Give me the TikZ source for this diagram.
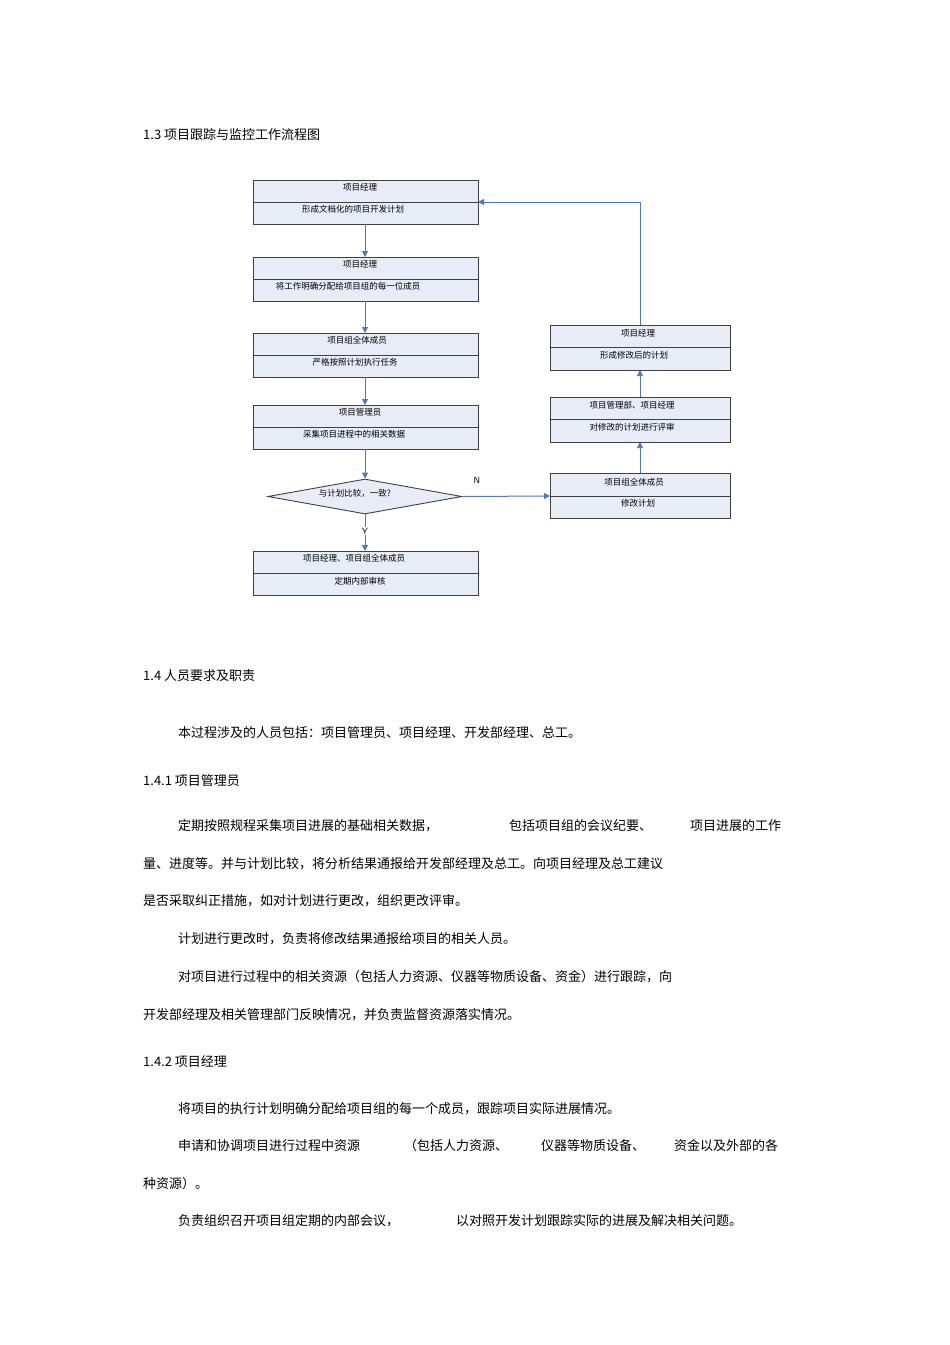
\documentclass[tikz,border=0pt]{standalone}
\usepackage{fontspec}
\newfontfamily\cjk{Noto Sans CJK SC}
\usetikzlibrary{arrows.meta,shapes.geometric}
\definecolor{boxfill}{HTML}{E8ECF7}
\definecolor{arr}{HTML}{5079BA}
\begin{document}
\begin{tikzpicture}[x=1pt,y=-1pt,
  box/.style={draw=black!75,line width=0.9pt,fill=boxfill},
  sm/.style={font=\cjk\fontsize{8.5}{10}\selectfont,inner sep=0pt},
  body/.style={font=\cjk\fontsize{13}{15}\selectfont,anchor=west,inner sep=0pt},
  link/.style={draw=arr,line width=1pt,-{Triangle[length=6pt,width=6pt]}}]
\useasboundingbox (0,0) rectangle (950,1345);
\fill[white] (0,0) rectangle (950,1345);
% left boxes
\foreach \n/\t/\d in {b1/180/202,b2/257/279,b3/333/355,b4/405/427,b5/551/573}{
  \draw[box] (253,\t) rectangle (478,\t+44);
  \draw[black!75,line width=0.9pt] (253,\d) -- (478,\d);
  \coordinate (\n t) at (365,\t);
  \coordinate (\n b) at (365,\t+44);
}
\coordinate (b1r) at (478,202);
\foreach \n/\t/\d in {r1/325/347,r2/397/419,r3/473/496}{
  \draw[box] (550,\t) rectangle (730,\t+45);
  \draw[black!75,line width=0.9pt] (550,\d) -- (730,\d);
  \coordinate (\n t) at (640,\t);
  \coordinate (\n b) at (640,\t+45);
}
\coordinate (r3l) at (550,496);
\node[sm] (t1a) at (360,187) {项目经理};
\node[sm] (t1b) at (353,209) {形成文档化的项目开发计划};
\node[sm] (t2a) at (360,264) {项目经理};
\node[sm] (t2b) at (348,286) {将工作明确分配给项目组的每一位成员};
\node[sm] (t3a) at (357,340) {项目组全体成员};
\node[sm] (t3b) at (355,362) {严格按照计划执行任务};
\node[sm] (t4a) at (360,412) {项目管理员};
\node[sm] (t4b) at (354,434) {采集项目进程中的相关数据};
\node[sm] (t5a) at (354,558) {项目经理、项目组全体成员};
\node[sm] (t5b) at (360,581) {定期内部审核};
\node[sm] (s1a) at (638,333) {项目经理};
\node[sm] (s1b) at (634,355) {形成修改后的计划};
\node[sm] (s2a) at (632,405) {项目管理部、项目经理};
\node[sm] (s2b) at (632,427) {对修改的计划进行评审};
\node[sm] (s3a) at (634,482) {项目组全体成员};
\node[sm] (s3b) at (638,503) {修改计划};
\node[diamond,draw=black!75,fill=boxfill,line width=0.9pt,aspect=5.5,minimum width=194pt,minimum height=35pt,inner sep=0pt] (dm) at (365,496.5) {};
\node[sm] at (355,493) {与计划比较，一致?};
\node[font=\sffamily\fontsize{9}{10}\selectfont,inner sep=0pt] (N) at (477,480) {N};
% arrows
\draw[link] (b1b) -- (b2t);
\draw[link] (b2b) -- (b3t);
\draw[link] (b3b) -- (b4t);
\draw[link] (b4b) -- (dm.north);
\draw[link] (dm.south) -- node[fill=white,inner sep=1pt,font=\sffamily\fontsize{9}{10}\selectfont,pos=0.45]{Y} (b5t);
\draw[link] (dm.east) -- (r3l);
\draw[link] (r3t) -- (r2b);
\draw[link] (r2t) -- (r1b);
\draw[link] (r1t) |- (b1r);
% text
\node[body] at (143,135) {1.3 项目跟踪与监控工作流程图};
\node[body] at (143,676) {1.4 人员要求及职责};
\node[body] at (178,733) {本过程涉及的人员包括：项目管理员、项目经理、开发部经理、总工。};
\node[body] at (143,781) {1.4.1 项目管理员};
\node[body] at (178,826) {定期按照规程采集项目进展的基础相关数据，};
\node[body] at (509,826) {包括项目组的会议纪要、};
\node[body] at (690,826) {项目进展的工作};
\node[body] at (143,864) {量、进度等。并与计划比较，将分析结果通报给开发部经理及总工。向项目经理及总工建议};
\node[body] at (143,901) {是否采取纠正措施，如对计划进行更改，组织更改评审。};
\node[body] at (178,939) {计划进行更改时，负责将修改结果通报给项目的相关人员。};
\node[body] at (178,977) {对项目进行过程中的相关资源（包括人力资源、仪器等物质设备、资金）进行跟踪，向};
\node[body] at (143,1015) {开发部经理及相关管理部门反映情况，并负责监督资源落实情况。};
\node[body] at (143,1062) {1.4.2 项目经理};
\node[body] at (178,1109) {将项目的执行计划明确分配给项目组的每一个成员，跟踪项目实际进展情况。};
\node[body] at (178,1146) {申请和协调项目进行过程中资源};
\node[body] at (404,1146) {（包括人力资源、};
\node[body] at (541,1146) {仪器等物质设备、};
\node[body] at (674,1146) {资金以及外部的各};
\node[body] at (143,1184) {种资源）。};
\node[body] at (178,1221) {负责组织召开项目组定期的内部会议，};
\node[body] at (456,1221) {以对照开发计划跟踪实际的进展及解决相关问题。};
\end{tikzpicture}
\end{document}
